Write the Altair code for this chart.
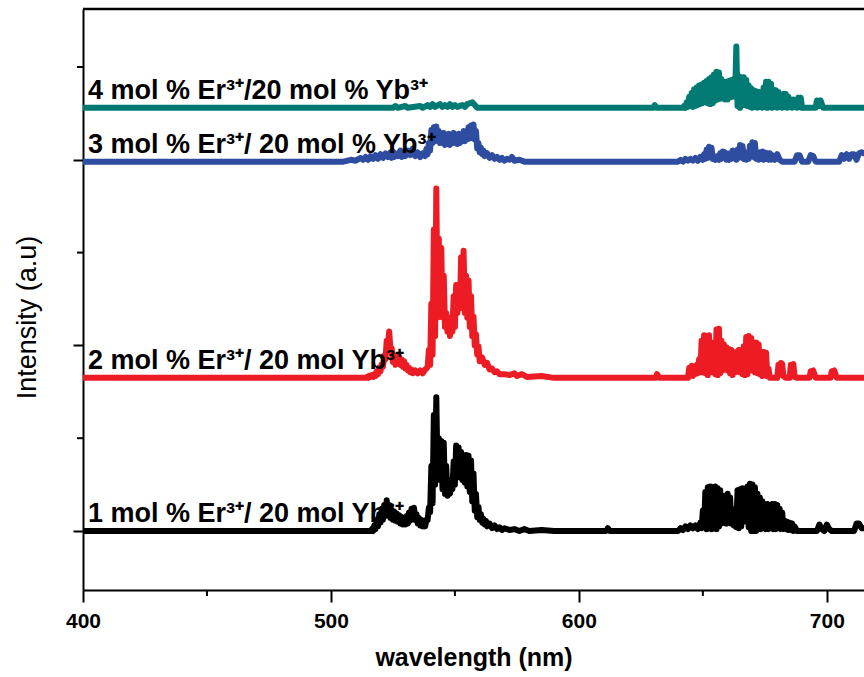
import altair as alt
import pandas as pd

# ---------------- data ----------------
series_names = ["1 mol % Er", "2 mol % Er", "3 mol % Er", "4 mol % Er"]
series_offsets = [100, 265, 498, 556]
series_colors = ["#000000", "#ED1C24", "#2E4DA0", "#007A73"]
series_labels = [
    "1 mol % Er³⁺/ 20 mol Yb³⁺",
    "2 mol % Er³⁺/ 20 mol Yb³⁺",
    "3 mol % Er³⁺/ 20 mol % Yb³⁺",
    "4 mol % Er³⁺/20 mol % Yb³⁺",
]

# (wavelength nm, intensity above the curve's baseline, a.u.)
black_pts = [
    (400, 0), (516, 0),
    (516.5, 2), (517, 0), (517.5, 6), (518, 2), (518.5, 12), (519, 5), (519.5, 18), (520, 9),
    (520.5, 24), (521, 12), (521.5, 28), (522, 16), (522.5, 33), (523, 17), (523.5, 28), (524, 14),
    (524.5, 23), (525, 12), (525.5, 21), (526, 11), (526.5, 19), (527, 10), (527.5, 17), (528, 8),
    (528.5, 15), (529, 7), (529.5, 14), (530, 7), (530.5, 16), (531, 8), (531.5, 20), (532, 11),
    (532.5, 24), (533, 14), (533.5, 25), (534, 12), (534.5, 18), (535, 8), (535.5, 14), (536, 6),
    (536.5, 12), (537, 5), (537.5, 11), (538, 5), (538.5, 12),
    (539, 12), (539.5, 25), (540, 20), (540.5, 70), (541, 30), (541.5, 125), (542, 50), (542.5, 144),
    (543, 60), (543.5, 100), (544, 55), (544.5, 97), (545, 45), (545.5, 95), (546, 40), (546.5, 70),
    (547, 38), (547.5, 55), (548, 40), (548.5, 48), (549, 45), (549.5, 75), (550, 50), (550.5, 92),
    (551, 58), (551.5, 90), (552, 58), (552.5, 85), (553, 55), (553.5, 82), (554, 52), (554.5, 82),
    (555, 48), (555.5, 81), (556, 42), (556.5, 76), (557, 32), (557.5, 62), (558, 22), (558.5, 40),
    (559, 15), (559.5, 26),
    (560, 12), (560.5, 18), (561, 9), (561.5, 13), (562, 7), (562.5, 11), (563, 5), (564, 8),
    (565, 3), (566, 6), (567, 2), (568, 4), (569, 1), (570, 3), (572, 1), (574, 2), (576, 0),
    (578, 2), (580, 0), (585, 1), (590, 0), (611, 0), (611.7, 3), (612.5, 0), (640, 0),
    (641, 3), (642, 1), (643, 5), (644, 2), (645, 6), (646, 3), (647, 6), (648, 2), (649, 9), (649.5, 3),
    (650, 22), (650.5, 4), (651, 42), (651.5, 2), (652, 47), (652.5, 3), (653, 48), (653.5, 2),
    (654, 47), (654.5, 4), (655, 48), (655.5, 2), (656, 46), (656.5, 5), (657, 44), (657.5, 8),
    (658, 20), (658.5, 9), (659, 38), (659.5, 8), (660, 40), (660.5, 9), (661, 36), (661.5, 8),
    (662, 24), (662.5, 6), (663, 22), (663.5, 4), (664, 44), (664.5, 3), (665, 45), (665.5, 5),
    (666, 46), (666.5, 10), (667, 44), (667.5, 12), (668, 48), (668.5, 4), (669, 51), (669.5, 0),
    (670, 50), (670.5, 0), (671, 47), (671.5, 0), (672, 40), (672.5, 2), (673, 36), (673.5, 2),
    (674, 32), (674.5, 3), (675, 29), (675.5, 2), (676, 29), (676.5, 2), (677, 26), (677.5, 3),
    (678, 29), (678.5, 2), (679, 29), (679.5, 2), (680, 28), (680.5, 3), (681, 24), (681.5, 2),
    (682, 20), (682.5, 2), (683, 11), (683.5, 2), (684, 10), (684.5, 1), (685, 9), (685.5, 1),
    (686, 8), (686.5, 0), (687, 5),
    (688, 0), (696, 0), (697, 7), (698, 2), (699, 0), (700, 7), (701, 2), (702, 0), (711, 0),
    (712, 8), (713, 8), (714, 3), (716, 3),
]

red_pts = [
    (400, 0), (514, 0),
    (514.5, 1), (515, 0), (515.5, 2), (516, 1), (516.5, 3), (517, 1), (517.5, 4), (518, 2),
    (518.5, 7), (519, 4), (519.5, 11), (520, 7), (520.5, 15), (521, 12), (521.5, 24), (522, 20),
    (522.5, 40), (523, 35), (523.5, 50), (524, 30), (524.5, 32), (525, 17), (525.5, 24), (526, 14),
    (526.5, 22), (527, 16), (527.5, 23), (528, 14), (528.5, 20), (529, 12), (529.5, 18), (530, 10),
    (530.5, 14), (531, 8), (531.5, 11), (532, 6), (532.5, 9), (533, 5), (534, 8), (535, 5), (536, 8),
    (537, 5), (538, 9), (538.5, 10),
    (539, 12), (539.5, 30), (540, 14), (540.5, 80), (541, 25), (541.5, 160), (542, 45), (542.5, 204),
    (543, 65), (543.5, 150), (544, 70), (544.5, 140), (545, 65), (545.5, 110), (546, 55), (546.5, 70),
    (547, 50), (547.5, 65), (548, 45), (548.5, 62), (549, 50), (549.5, 88), (550, 55), (550.5, 100),
    (551, 70), (551.5, 98), (552, 75), (552.5, 130), (553, 80), (553.5, 137), (554, 70), (554.5, 110),
    (555, 65), (555.5, 105), (556, 55), (556.5, 88), (557, 45), (557.5, 66), (558, 35), (558.5, 47),
    (559, 25), (559.5, 34), (560, 18),
    (561, 22), (562, 14), (563, 16), (564, 9), (565, 10), (566, 6), (567, 7), (568, 4), (570, 4),
    (572, 3), (574, 5), (575, 2), (577, 4), (579, 1), (585, 2), (590, 0), (631, 0), (631.5, 4),
    (632.5, 0), (644, 0),
    (644.5, 11), (645, 3), (645.5, 13), (646, 2), (646.5, 12), (647, 4), (647.5, 14), (648, 5),
    (648.5, 20), (649, 6), (649.5, 40), (650, 6), (650.5, 46), (651, 5), (651.5, 45), (652, 3),
    (652.5, 46), (653, 8), (653.5, 22), (654, 6), (654.5, 38), (655, 4), (655.5, 52), (656, 3),
    (656.5, 53), (657, 5), (657.5, 40), (658, 8), (658.5, 36), (659, 9), (659.5, 33), (660, 8),
    (660.5, 31), (661, 5), (661.5, 30), (662, 3), (662.5, 28), (663, 6), (663.5, 28), (664, 8),
    (664.5, 30), (665, 6), (665.5, 30), (666, 4), (666.5, 34), (667, 3), (667.5, 44), (668, 4),
    (668.5, 45), (669, 8), (669.5, 43), (670, 8), (670.5, 38), (671, 6), (671.5, 38), (672, 5),
    (672.5, 36), (673, 4), (673.5, 28), (674, 2), (674.5, 28), (675, 3), (675.5, 27), (676, 2),
    (676.5, 10), (677, 0),
    (680, 0), (680.5, 14), (681, 3), (681.5, 16), (682, 15), (682.5, 2), (683.5, 0), (685, 0),
    (685.5, 14), (686, 4), (686.5, 15), (687, 1), (688, 0), (693, 0), (693.5, 7), (694.5, 8),
    (695.5, 0), (701.5, 0), (702, 7), (703, 8), (704, 0), (716, 0),
]

blue_pts = [
    (400, 0), (505, 0), (508, 2), (510, 1), (512, 4), (513, 2), (514, 5), (515, 2), (516, 6),
    (517, 3), (518, 7), (519, 3), (520, 8), (521, 4), (522, 9), (523, 5), (524, 10), (524.5, 4),
    (525, 11), (525.5, 5), (526, 9), (527, 6), (528, 12), (528.5, 5), (529, 10), (530, 6), (531, 12),
    (532, 7), (533, 14), (534, 6), (535, 10), (536, 5), (537, 9), (538, 6), (538.5, 14), (539, 8),
    (539.5, 20),
    (540, 12), (540.5, 34), (541, 20), (541.5, 37), (542, 22), (542.5, 38), (543, 24), (543.5, 33),
    (544, 20), (544.5, 30), (545, 20), (545.5, 31), (546, 18), (546.5, 28), (547, 20), (547.5, 30),
    (548, 18), (548.5, 28), (549, 20), (549.5, 31), (550, 20), (550.5, 27), (551, 19), (551.5, 30),
    (552, 20), (552.5, 29), (553, 22), (553.5, 33), (554, 22), (554.5, 31), (555, 24), (555.5, 37),
    (556, 25), (556.5, 39), (557, 26), (557.5, 40), (558, 24), (558.5, 33), (559, 14), (559.5, 20),
    (560, 10), (560.5, 15), (561, 8), (561.5, 12), (562, 6), (563, 9), (564, 4), (565, 7), (566, 3),
    (567, 5), (568, 2), (569, 4), (570, 1), (571, 3), (572, 2), (573, 5), (574, 1), (576, 2),
    (578, 0), (640, 0),
    (641, 2), (642, 0), (643, 3), (644, 1), (645, 3), (646, 1), (647, 4), (648, 1), (649, 5),
    (650, 2), (650.5, 8), (651, 3), (651.5, 13), (652, 4), (652.5, 16), (653, 5), (653.5, 15),
    (654, 3), (654.5, 6), (655, 2), (656, 6), (656.5, 2), (657, 9), (657.5, 3), (658, 11),
    (658.5, 4), (659, 10), (659.5, 2), (660, 6), (660.5, 2), (661, 9), (661.5, 3), (662, 12),
    (662.5, 4), (663, 8), (663.5, 2), (664, 13), (664.5, 4), (665, 18), (665.5, 5), (666, 17),
    (666.5, 3), (667, 8), (667.5, 2), (668, 10), (668.5, 3), (669, 17), (669.5, 6), (670, 21),
    (670.5, 5), (671, 20), (671.5, 3), (672, 8), (672.5, 2), (673, 10), (673.5, 3), (674, 11),
    (674.5, 2), (675, 10), (675.5, 3), (676, 9), (676.5, 2), (677, 9), (677.5, 2), (678, 7),
    (679, 2), (680, 8), (681, 2), (682, 0), (687, 0), (688, 7), (689, 7), (690, 0), (692.5, 0),
    (693.5, 7), (694.5, 6), (695.5, 0), (705, 0), (706, 7), (707, 3), (708, 8), (709, 3), (710, 8),
    (711, 8), (712, 2), (713, 9), (714, 10), (716, 8),
]

teal_pts = [
    (400, 0), (525, 0), (526, 2), (527, 0), (530, 2), (531, 0), (536, 2), (537, 0), (539, 3),
    (540, 1), (541, 4), (542, 1), (544, 4), (545, 1), (546, 3), (547, 1), (548, 4), (549, 1),
    (550, 3), (551, 1), (553, 3), (554, 1), (555, 4), (556, 5), (557, 6), (558, 3), (559, 0),
    (630, 0), (630.6, 3), (631.3, 0), (642, 0),
    (642.5, 2), (643, 0), (643.5, 6), (644, 1), (644.5, 12), (645, 2), (645.5, 16), (646, 1),
    (646.5, 20), (647, 2), (647.5, 22), (648, 3), (648.5, 24), (649, 4), (649.5, 25), (650, 5),
    (650.5, 27), (651, 6), (651.5, 29), (652, 5), (652.5, 31), (653, 4), (653.5, 33), (654, 5),
    (654.5, 36), (655, 8), (655.5, 39), (656, 9), (656.5, 38), (657, 10), (657.5, 31), (658, 10),
    (658.5, 28), (659, 9), (659.5, 28), (660, 9), (660.5, 29), (661, 11), (661.5, 30), (662, 12),
    (662.5, 31), (663, 12), (663.5, 66), (664, 2), (664.5, 34), (665, 0), (665.5, 33), (666, 3),
    (666.5, 33), (667, 3), (667.5, 30), (668, 2), (668.5, 24), (669, 1), (669.5, 21), (670, 0),
    (670.5, 19), (671, 1), (671.5, 18), (672, 0), (672.5, 17), (673, 1), (673.5, 17), (674, 0),
    (674.5, 22), (675, 1), (675.5, 28), (676, 0), (676.5, 28), (677, 1), (677.5, 26), (678, 0),
    (678.5, 19), (679, 1), (679.5, 19), (680, 0), (680.5, 17), (681, 1), (681.5, 14), (682, 0),
    (682.5, 15), (683, 1), (683.5, 15), (684, 0), (684.5, 12), (685, 1), (685.5, 9), (686, 0),
    (686.5, 9), (687, 1), (687.5, 8), (688, 0), (688.5, 11), (689, 1), (689.5, 11), (690, 0),
    (695.5, 0), (696, 8), (697, 2), (697.5, 8), (698.5, 0), (716, 0),
]

series_points = [black_pts, red_pts, blue_pts, teal_pts]

major_y_ticks = [100, 300, 500]
minor_y_ticks = [200, 400, 600]
major_x_ticks = [400, 500, 600, 700]
minor_x_ticks = [450, 550, 650]
x_domain = [400, 715]
y_domain = [36.4, 662.5]

# ---------------- tables ----------------
rows = []
for name, off, pts in zip(series_names, series_offsets, series_points):
    for i, (w, v) in enumerate(pts):
        rows.append({"series": name, "order": i, "wavelength": w, "intensity": off + v})
spec = pd.DataFrame(rows)

labels = pd.DataFrame({"series": series_names, "label": series_labels,
                       "wavelength": [402] * 4, "intensity": series_offsets})

W, H = 781, 581
xs = alt.Scale(domain=x_domain, nice=False, zero=False)
ys = alt.Scale(domain=y_domain, nice=False, zero=False)
color = alt.Scale(domain=series_names, range=series_colors)

x_axis = alt.Axis(values=major_x_ticks, format="d", grid=False, labelFlush=False,
                  domainColor="black", domainWidth=2,
                  tickColor="black", tickWidth=2, tickSize=12,
                  labelFont="Liberation Sans", labelFontWeight="bold",
                  labelFontSize=21, labelColor="black", labelPadding=8,
                  titleFont="Liberation Sans", titleFontWeight="bold",
                  titleFontSize=25, titleColor="black", titlePadding=14)
y_axis = alt.Axis(values=major_y_ticks, labels=False, grid=False,
                  domainColor="black", domainWidth=2,
                  tickColor="black", tickWidth=2, tickSize=10,
                  titleFont="Liberation Sans", titleFontWeight="normal",
                  titleFontSize=27, titleColor="black",
                  titleAngle=270, titleBaseline="alphabetic",
                  titleX=-48, titleY=308, titleAlign="center")

X = alt.X("wavelength:Q", scale=xs, title="wavelength (nm)", axis=x_axis)
Y = alt.Y("intensity:Q", scale=ys, title="Intensity (a.u)", axis=y_axis)

lines = alt.Chart(spec).mark_line(
    strokeWidth=6, strokeJoin="round", strokeCap="round", clip=True
).encode(
    x=X, y=Y,
    color=alt.Color("series:N", scale=color, legend=None),
    detail="series:N",
    order="order:Q",
)

text = alt.Chart(labels).mark_text(
    align="left", baseline="alphabetic", dy=-9,
    font="Liberation Sans", fontWeight="bold", fontSize=27, color="black"
).encode(x=X, y=Y, text="label:N")

ymin = alt.Chart(pd.DataFrame({"intensity": minor_y_ticks})).mark_rule(
    color="black", strokeWidth=2
).encode(y=Y, x=alt.value(-6), x2=alt.value(0))

xmin = alt.Chart(pd.DataFrame({"wavelength": minor_x_ticks})).mark_rule(
    color="black", strokeWidth=2
).encode(x=X, y=alt.value(H), y2=alt.value(H + 6))

frame_top = alt.Chart(pd.DataFrame({"a": [0]})).mark_rule(
    color="black", strokeWidth=2.5
).encode(x=alt.value(0), x2=alt.value(W), y=alt.value(0))

chart = alt.layer(lines, text, ymin, xmin, frame_top).properties(
    width=W, height=H, background="white",
    autosize=alt.AutoSizeParams(type="none"),
    padding={"left": 83, "top": 9, "right": 0, "bottom": 87},
).configure_view(stroke=None)

chart.save("out.html", embed_options={"renderer": "svg", "actions": False})
